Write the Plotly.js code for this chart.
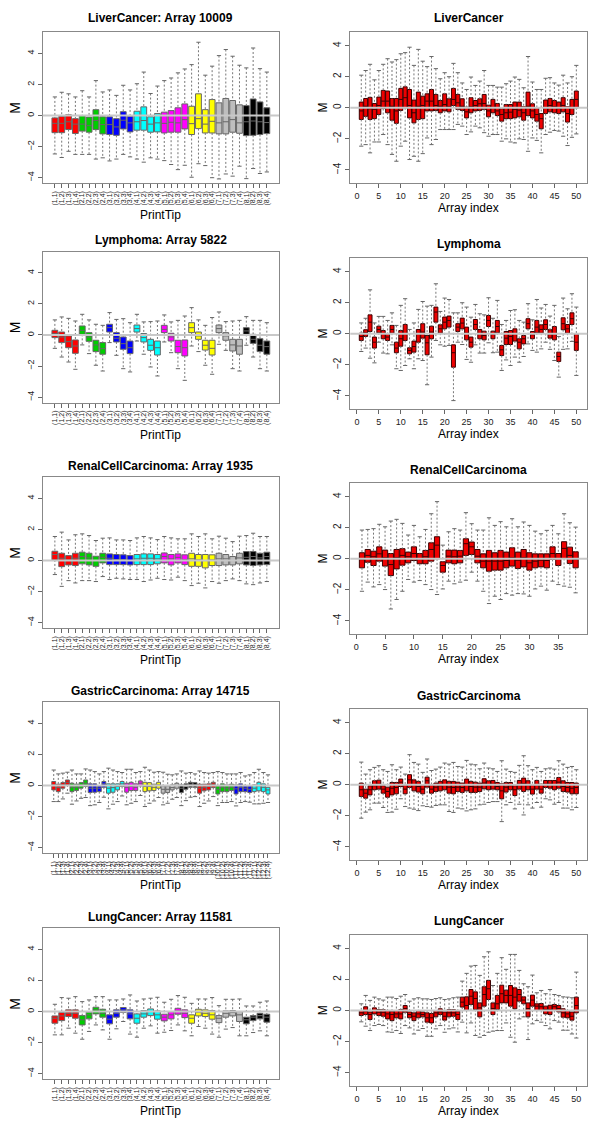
<!DOCTYPE html>
<html>
<head>
<meta charset="utf-8">
<script src="https://cdn.plot.ly/plotly-3.0.1.min.js"></script>
<style>
  html, body { margin: 0; padding: 0; background: #fff; }
  #chart { width: 600px; height: 1128px; }
</style>
</head>
<body>
<div id="chart"></div>
<script>
'use strict';

// print-tip colours (R default palette order) and labels
var tipColors = ['#FF0000', '#00CD00', '#0000FF', '#00FFFF', '#FF00FF', '#FFFF00', '#BEBEBE', '#000000'];
var tipLabels = ['(1,1)','(1,2)','(1,3)','(1,4)','(2,1)','(2,2)','(2,3)','(2,4)',
  '(3,1)','(3,2)','(3,3)','(3,4)','(4,1)','(4,2)','(4,3)','(4,4)',
  '(5,1)','(5,2)','(5,3)','(5,4)','(6,1)','(6,2)','(6,3)','(6,4)',
  '(7,1)','(7,2)','(7,3)','(7,4)','(8,1)','(8,2)','(8,3)','(8,4)',
  '(9,1)','(9,2)','(9,3)','(9,4)','(10,1)','(10,2)','(10,3)','(10,4)',
  '(11,1)','(11,2)','(11,3)','(11,4)','(12,1)','(12,2)','(12,3)','(12,4)'];
var arrayTicks = [0, 5, 10, 15, 20, 25, 30, 35, 40, 45, 50];

// LiverCancer: Array 10009 (per print-tip)
var liverTipHi = [1.2,1.5,1.4,1.2,1.6,1.2,2.25,1.52,1.65,1.3,1.95,1.65,2.05,2.8,1.42,1.9,2.25,2.42,2.75,3.0,3.28,4.72,2.6,3.18,3.86,4.25,3.82,3.24,3.07,4.35,3.02,2.8];
var liverTipQ3 = [-0.15,-0.05,0.05,-0.2,0.0,-0.1,0.38,-0.08,-0.08,-0.2,0.25,-0.04,0.28,0.56,-0.08,0.13,0.22,0.32,0.5,0.75,0.6,1.4,0.38,1.03,0.82,1.1,0.97,0.69,0.64,1.07,0.88,0.5];
var liverTipMed = [-0.5,-0.5,-0.4,-0.55,-0.55,-0.65,-0.32,-0.58,-0.58,-0.73,-0.3,-0.47,-0.4,-0.32,-0.55,-0.47,-0.5,-0.43,-0.47,-0.26,-0.52,-0.2,-0.55,-0.37,-0.47,-0.4,-0.26,-0.47,-0.4,-0.35,-0.4,-0.45];
var liverTipQ1 = [-1.1,-1.1,-0.9,-1.15,-1.0,-1.07,-0.9,-1.18,-1.22,-1.27,-0.86,-1.05,-0.94,-0.94,-1.07,-1.05,-1.12,-1.07,-1.07,-0.86,-1.22,-0.84,-1.12,-1.12,-1.18,-1.18,-1.07,-1.14,-1.29,-1.27,-1.22,-1.16];
var liverTipLo = [-2.47,-2.7,-2.3,-2.5,-2.5,-2.5,-2.8,-2.72,-2.92,-2.8,-2.5,-2.66,-2.8,-3.0,-2.72,-2.8,-2.9,-3.15,-3.48,-3.2,-3.97,-3.1,-3.22,-4.0,-4.08,-3.76,-3.9,-3.26,-4.06,-3.41,-3.73,-3.63];

// LiverCancer (per array)
var liverArrHi = [2.1,2.4,2.8,1.8,2.4,2.8,3.16,2.95,3.1,3.48,3.55,3.9,2.73,3.76,3.0,2.65,3.3,2.52,1.87,2.26,2.0,2.86,2.26,1.6,1.18,1.98,1.44,1.72,2.4,1.44,1.44,1.33,1.33,1.55,1.72,1.98,1.83,1.29,3.3,1.66,1.18,1.18,1.9,1.94,1.6,1.46,2.1,1.6,2.0,2.73];
var liverArrQ3 = [0.37,0.6,0.67,0.28,0.69,1.12,1.08,0.6,0.6,1.25,1.35,1.18,0.5,1.01,0.75,0.9,1.18,0.86,0.47,0.9,0.58,1.25,0.86,0.58,0.04,0.65,0.47,0.58,0.86,0.17,0.54,0.28,-0.06,0.21,0.21,0.37,0.37,0.06,1.01,0.26,0.0,-0.37,0.5,0.6,0.47,0.37,0.65,0.06,0.54,1.08];
var liverArrMed = [-0.2,0.1,-0.06,-0.1,0.15,0.43,0.43,0.1,-0.2,0.54,0.65,0.15,-0.32,0.1,0.15,0.43,0.43,0.15,0.1,0.21,0.06,0.54,0.32,0.1,-0.26,0.06,0.15,0.26,0.28,-0.2,0.0,-0.2,-0.43,-0.32,-0.28,-0.1,-0.15,-0.32,0.1,-0.2,-0.43,-0.7,0.0,0.15,0.06,-0.04,0.15,-0.37,0.0,0.54];
var liverArrQ1 = [-0.75,-0.55,-0.75,-0.7,-0.43,-0.05,-0.32,-0.8,-1.0,-0.17,0.0,-0.65,-0.97,-0.75,-0.7,-0.2,-0.2,-0.17,-0.32,-0.2,-0.26,0.15,-0.1,-0.17,-0.65,-0.32,-0.2,-0.17,-0.1,-0.58,-0.32,-0.5,-0.86,-0.7,-0.7,-0.65,-0.58,-0.8,-0.5,-0.65,-0.86,-1.35,-0.37,-0.26,-0.32,-0.37,-0.26,-0.92,-0.43,0.0];
var liverArrLo = [-2.47,-2.37,-2.9,-2.2,-2.2,-1.72,-2.37,-3.0,-3.44,-2.47,-2.15,-3.33,-3.12,-3.44,-2.95,-1.94,-2.37,-2.04,-1.4,-1.4,-1.4,-1.4,-1.07,-1.18,-1.72,-1.55,-1.18,-1.29,-1.6,-1.83,-1.72,-1.72,-2.15,-2.0,-2.2,-2.26,-2.0,-2.04,-2.8,-1.94,-2.1,-2.9,-1.72,-1.57,-1.46,-1.5,-1.83,-2.43,-1.9,-1.68];

// Lymphoma: Array 5822
var lymphTipHi = [0.97,1.16,1.07,0.9,1.33,0.97,0.69,0.62,1.44,1.0,1.05,0.79,1.33,0.84,0.86,0.9,1.29,0.84,0.94,1.22,1.76,0.97,0.62,1.12,1.48,0.86,0.9,0.94,1.18,0.94,0.94,0.79];
var lymphTipQ3 = [0.3,0.19,-0.06,-0.32,0.58,0.15,-0.34,-0.49,0.69,0.15,-0.13,-0.39,0.64,0.09,-0.28,-0.39,0.62,0.11,-0.34,-0.32,0.79,0.19,-0.34,-0.34,0.64,0.15,-0.28,-0.28,0.47,0.04,-0.24,-0.39];
var lymphTipMed = [0.1,-0.13,-0.43,-0.71,0.3,-0.13,-0.64,-0.88,0.47,-0.21,-0.56,-0.82,0.41,-0.17,-0.66,-0.82,0.36,-0.13,-0.75,-0.82,0.47,-0.06,-0.66,-0.86,0.41,-0.06,-0.64,-0.71,0.26,-0.28,-0.66,-0.75];
var lymphTipQ1 = [-0.17,-0.49,-0.82,-1.18,0.04,-0.41,-1.07,-1.24,0.19,-0.45,-0.92,-1.2,0.19,-0.45,-0.99,-1.29,0.15,-0.39,-1.14,-1.35,0.15,-0.28,-0.97,-1.29,0.15,-0.34,-1.03,-1.24,0.04,-0.54,-1.07,-1.24];
var lymphTipLo = [-0.86,-1.42,-1.74,-2.21,-0.64,-1.2,-1.95,-2.32,-0.49,-1.31,-2.17,-2.38,-0.39,-1.24,-2.06,-2.64,-0.45,-1.14,-2.17,-2.92,-0.71,-1.07,-1.95,-2.53,-0.6,-0.99,-2.17,-2.32,-0.66,-1.42,-2.17,-2.32];

// Lymphoma (per array)
var lymphArrHi = [0.7,1.0,2.83,0.7,1.12,1.12,0.86,1.35,0.54,1.83,2.26,0.28,0.7,1.57,2.08,1.78,1.83,3.22,1.44,2.3,2.21,1.35,1.35,2.0,1.72,1.07,1.89,1.29,1.22,2.32,1.0,2.15,0.6,0.86,1.5,1.55,0.86,0.75,1.94,0.9,2.21,1.66,1.89,1.14,1.83,-0.17,2.3,1.61,2.58,1.72];
var lymphArrQ3 = [0.04,0.26,1.22,-0.21,0.49,0.21,0.0,0.54,-0.54,0.21,0.6,-0.9,-0.47,0.28,0.65,-0.11,0.49,1.72,0.58,1.08,1.14,-0.71,0.65,1.01,0.43,-0.21,0.92,0.28,0.17,1.18,0.17,0.86,-0.75,0.15,0.21,0.32,-0.32,-0.11,0.97,0.15,0.86,0.58,0.9,0.26,0.47,-1.18,1.03,0.6,1.35,0.0];
var lymphArrMed = [-0.17,0.06,0.75,-0.54,0.28,0.0,-0.21,0.28,-0.92,-0.32,0.0,-1.07,-0.82,0.0,0.11,-0.58,0.11,1.4,0.32,0.75,0.86,-1.22,0.43,0.69,0.04,-0.54,0.6,0.0,-0.11,0.86,-0.04,0.47,-1.03,-0.28,-0.17,0.0,-0.54,-0.32,0.65,-0.06,0.43,0.28,0.6,0.0,0.0,-1.46,0.65,0.32,0.97,-0.54];
var lymphArrQ1 = [-0.43,-0.17,0.15,-0.92,0.06,-0.32,-0.43,0.04,-1.22,-0.8,-0.43,-1.29,-1.18,-0.54,-0.28,-1.35,-0.32,0.75,0.04,0.32,0.43,-2.15,0.15,0.32,-0.39,-0.86,0.28,-0.32,-0.39,0.47,-0.32,0.06,-1.4,-0.69,-0.69,-0.47,-0.97,-0.65,0.32,-0.32,0.06,0.04,0.28,-0.28,-0.39,-1.78,0.26,0.04,0.6,-1.07];
var lymphArrLo = [-1.14,-0.92,-1.57,-1.87,-0.54,-1.24,-1.29,-0.71,-2.25,-2.36,-2.04,-1.61,-2.25,-1.61,-1.72,-3.28,-1.5,-0.43,-0.71,-0.8,-0.75,-4.3,-0.54,-0.69,-1.65,-1.83,-0.71,-1.24,-1.24,-0.58,-1.22,-1.18,-2.36,-1.68,-2.04,-1.5,-1.83,-1.46,-0.65,-1.07,-1.18,-0.97,-0.54,-1.0,-1.72,-2.79,-1.0,-0.97,-0.49,-2.68];

// RenalCellCarcinoma: Array 1935
var renalTipHi = [1.55,1.83,1.33,1.66,1.72,1.61,1.29,1.44,1.46,1.33,1.33,1.29,1.46,1.55,1.46,1.35,1.55,1.46,1.4,1.4,1.72,1.55,1.72,1.4,1.57,1.44,1.22,1.57,1.61,1.76,1.55,1.55];
var renalTipQ3 = [0.6,0.47,0.32,0.47,0.54,0.47,0.28,0.47,0.43,0.39,0.37,0.32,0.39,0.43,0.43,0.39,0.49,0.39,0.43,0.37,0.47,0.39,0.39,0.37,0.47,0.39,0.26,0.47,0.58,0.58,0.47,0.54];
var renalTipMed = [0.39,0.15,0.04,0.15,0.26,0.17,0.0,0.21,0.15,0.06,0.06,0.0,0.11,0.15,0.15,0.11,0.26,0.11,0.21,0.06,0.11,0.04,0.0,0.04,0.11,0.11,0.0,0.17,0.21,0.26,0.17,0.26];
var renalTipQ1 = [0.04,-0.39,-0.28,-0.32,-0.21,-0.28,-0.37,-0.15,-0.26,-0.26,-0.26,-0.28,-0.26,-0.26,-0.26,-0.21,-0.15,-0.28,-0.15,-0.26,-0.37,-0.37,-0.47,-0.32,-0.32,-0.28,-0.28,-0.21,-0.28,-0.32,-0.28,-0.26];
var renalTipLo = [-0.9,-1.66,-1.29,-1.44,-1.29,-1.29,-1.35,-1.03,-1.22,-1.14,-1.18,-1.22,-1.22,-1.35,-1.25,-1.14,-1.22,-1.25,-1.07,-1.29,-1.61,-1.46,-1.76,-1.35,-1.46,-1.29,-1.18,-1.29,-1.5,-1.55,-1.44,-1.35];

// RenalCellCarcinoma (per array, 38 arrays)
var renalArrHi = [1.85,1.89,1.94,2.22,2.06,2.43,2.54,2.28,1.53,2.15,1.42,1.89,2.9,3.68,0.88,1.74,1.94,1.85,2.97,2.26,1.85,1.85,2.64,2.15,2.39,2.06,2.58,2.06,2.37,2.15,1.78,1.61,1.83,2.15,1.61,2.9,2.32,2.04];
var renalArrQ3 = [0.39,0.6,0.49,0.77,0.56,0.34,0.6,0.65,0.43,0.77,0.34,0.54,1.03,1.42,-0.19,0.56,0.56,0.54,1.29,1.08,0.6,0.32,0.54,0.39,0.54,0.43,0.71,0.43,0.6,0.39,0.32,0.32,0.32,0.77,0.34,1.1,0.75,0.45];
var renalArrMed = [-0.05,0.22,0.13,0.32,0.06,-0.37,0.06,0.22,0.13,0.34,0.0,0.13,0.6,0.88,-0.43,0.17,0.13,0.17,0.97,0.77,0.17,-0.15,-0.15,-0.15,-0.15,-0.11,0.06,-0.09,0.06,-0.26,-0.15,-0.09,-0.11,0.34,0.0,0.67,0.22,-0.04];
var renalArrQ1 = [-0.58,-0.22,-0.43,-0.15,-0.47,-1.08,-0.65,-0.41,-0.26,-0.11,-0.32,-0.32,-0.15,0.0,-0.86,-0.26,-0.32,-0.26,0.22,0.28,-0.26,-0.58,-0.8,-0.73,-0.73,-0.58,-0.47,-0.62,-0.52,-0.73,-0.58,-0.52,-0.58,-0.04,-0.43,0.02,-0.3,-0.58];
var renalArrLo = [-2.09,-1.5,-1.81,-1.66,-1.98,-3.23,-2.62,-2.09,-1.33,-1.5,-1.4,-1.66,-1.98,-2.3,-1.94,-1.44,-1.61,-1.5,-1.38,-0.86,-1.44,-2.09,-2.88,-2.41,-2.62,-2.24,-2.34,-2.24,-2.26,-2.41,-1.94,-1.76,-2.02,-1.44,-1.66,-1.76,-1.83,-2.19];

// GastricCarcinoma: Array 14715 (48 print-tips)
var gastricTipHi = [1.0,0.75,0.8,0.86,1.0,0.75,0.75,1.07,1.0,0.9,0.75,0.9,1.12,1.0,0.9,0.84,1.05,1.05,0.84,0.9,1.18,1.0,0.86,0.9,0.86,0.73,0.69,0.75,0.94,0.8,0.84,0.75,0.94,0.84,0.8,0.84,0.9,0.84,0.75,0.75,0.75,0.84,0.62,0.69,0.84,1.05,0.84,0.69];
var gastricTipQ3 = [0.26,0.09,0.19,0.36,0.15,0.09,0.19,0.36,0.11,0.11,-0.02,0.26,0.11,0.11,0.11,0.26,0.15,0.21,0.11,0.3,0.21,0.19,0.09,0.21,-0.02,-0.02,0.04,0.15,0.04,0.11,0.21,0.19,0.09,0.09,0.11,0.21,-0.02,0.11,0.04,0.09,0.04,0.11,-0.02,-0.02,0.04,0.21,0.11,-0.11];
var gastricTipMed = [0.04,-0.13,0.04,0.21,-0.11,-0.11,0.04,0.15,-0.17,-0.17,-0.17,0.11,-0.17,-0.13,-0.06,0.11,-0.11,-0.06,-0.11,0.15,-0.06,-0.06,-0.11,0.04,-0.24,-0.24,-0.13,0.0,-0.17,-0.06,0.09,0.04,-0.17,-0.13,-0.06,0.09,-0.24,-0.11,-0.17,-0.11,-0.21,-0.11,-0.17,-0.24,-0.17,-0.02,-0.11,-0.28];
var gastricTipQ1 = [-0.28,-0.39,-0.17,0.04,-0.39,-0.32,-0.17,-0.06,-0.45,-0.43,-0.39,-0.11,-0.49,-0.43,-0.28,-0.06,-0.43,-0.32,-0.32,-0.02,-0.39,-0.34,-0.32,-0.17,-0.49,-0.45,-0.28,-0.17,-0.45,-0.24,-0.11,-0.11,-0.49,-0.34,-0.28,-0.13,-0.54,-0.39,-0.39,-0.32,-0.54,-0.39,-0.39,-0.45,-0.39,-0.34,-0.39,-0.54];
var gastricTipLo = [-1.03,-1.03,-0.86,-0.49,-1.2,-0.99,-0.82,-0.77,-1.29,-1.24,-1.09,-0.75,-1.5,-1.2,-1.03,-0.67,-1.24,-1.14,-1.03,-0.64,-1.35,-1.14,-0.99,-0.77,-1.24,-1.14,-0.88,-0.77,-1.29,-0.97,-0.75,-0.71,-1.35,-1.14,-0.99,-0.71,-1.29,-1.09,-1.09,-1.03,-1.31,-1.09,-1.03,-1.07,-1.18,-1.18,-1.14,-1.09];

// GastricCarcinoma (per array)
var gastricArrHi = [1.46,0.69,0.97,1.12,1.23,0.97,0.86,1.29,0.97,1.14,0.69,1.94,1.44,1.33,0.8,1.66,0.92,1.01,1.14,1.4,1.33,1.44,1.18,1.14,1.57,1.33,1.29,1.03,1.4,1.08,1.03,0.86,1.55,1.01,0.86,0.8,1.25,1.87,1.23,0.97,1.12,0.86,1.03,1.08,1.01,1.55,1.33,1.12,1.18,0.97];
var gastricArrQ3 = [0.11,-0.28,-0.06,0.26,0.3,-0.06,-0.15,0.15,0.15,0.37,0.0,0.65,0.32,0.22,0.0,0.49,0.0,0.11,0.22,0.32,0.22,0.22,0.17,0.11,0.37,0.22,0.17,0.11,0.39,0.26,0.28,0.15,0.06,0.15,0.15,-0.06,0.28,0.43,0.26,0.0,0.28,0.04,0.28,0.28,0.28,0.47,0.26,0.15,0.15,0.11];
var gastricArrMed = [-0.32,-0.54,-0.32,-0.06,0.04,-0.28,-0.43,-0.22,-0.17,0.17,-0.28,0.32,0.0,-0.11,-0.28,0.26,-0.28,-0.15,-0.06,0.0,-0.15,-0.17,-0.15,-0.17,0.0,-0.11,-0.15,-0.15,0.11,-0.04,0.04,-0.11,-0.39,-0.15,-0.06,-0.32,0.04,0.06,0.0,-0.28,0.0,-0.28,0.04,0.04,0.0,0.17,-0.11,-0.17,-0.22,-0.17];
var gastricArrQ1 = [-0.75,-0.86,-0.65,-0.32,-0.28,-0.54,-0.8,-0.65,-0.58,-0.11,-0.58,-0.17,-0.39,-0.47,-0.58,-0.15,-0.54,-0.43,-0.39,-0.32,-0.54,-0.58,-0.43,-0.49,-0.39,-0.49,-0.49,-0.43,-0.26,-0.32,-0.28,-0.32,-0.9,-0.47,-0.32,-0.69,-0.28,-0.43,-0.32,-0.6,-0.28,-0.54,-0.17,-0.22,-0.32,-0.22,-0.43,-0.47,-0.58,-0.58];
var gastricArrLo = [-2.15,-1.76,-1.61,-1.18,-1.18,-1.46,-1.78,-1.76,-1.57,-0.9,-1.4,-1.5,-1.57,-1.66,-1.35,-1.4,-1.44,-1.33,-1.29,-1.29,-1.72,-1.78,-1.5,-1.55,-1.68,-1.61,-1.55,-1.29,-1.25,-1.14,-1.08,-1.08,-2.37,-1.29,-1.14,-1.55,-1.25,-1.94,-1.29,-1.5,-1.14,-1.44,-0.9,-0.97,-1.25,-1.14,-1.5,-1.5,-1.61,-1.46];

// LungCancer: Array 11581
var lungTipHi = [0.47,0.9,0.86,0.96,0.64,0.75,0.96,0.96,0.75,0.75,0.81,1.07,0.68,0.81,0.86,0.92,0.6,0.79,1.03,0.92,0.53,0.81,0.81,0.9,0.38,0.79,0.79,0.81,0.36,0.36,0.6,0.68];
var lungTipQ3 = [-0.28,-0.06,0.11,0.11,-0.26,-0.04,0.28,0.15,-0.21,0.11,0.26,0.11,-0.15,0.06,0.17,0.04,-0.17,0.0,0.21,0.11,-0.21,0.15,0.11,0.06,-0.26,0.04,0.06,0.0,-0.36,-0.26,-0.11,-0.17];
var lungTipMed = [-0.43,-0.28,-0.11,-0.11,-0.53,-0.21,0.11,-0.11,-0.49,-0.11,0.11,-0.15,-0.43,-0.15,0.0,-0.21,-0.36,-0.21,0.04,-0.11,-0.43,-0.04,-0.11,-0.21,-0.43,-0.11,-0.06,-0.21,-0.53,-0.36,-0.26,-0.36];
var lungTipQ1 = [-0.75,-0.58,-0.32,-0.43,-0.86,-0.47,-0.15,-0.36,-0.79,-0.36,-0.06,-0.47,-0.75,-0.36,-0.26,-0.49,-0.6,-0.47,-0.17,-0.39,-0.75,-0.28,-0.32,-0.49,-0.71,-0.36,-0.28,-0.64,-0.79,-0.58,-0.47,-0.68];
var lungTipLo = [-1.5,-1.5,-1.07,-1.39,-1.78,-1.28,-0.86,-1.18,-1.78,-1.11,-0.64,-1.45,-1.65,-1.07,-0.92,-1.39,-1.33,-1.22,-0.86,-1.24,-1.56,-0.96,-1.07,-1.45,-1.65,-1.13,-1.03,-1.56,-1.56,-1.35,-1.24,-1.56];

// LungCancer (per array)
var lungArrHi = [0.43,0.97,0.65,0.86,0.75,0.67,0.86,0.86,0.77,0.92,1.03,0.6,0.75,0.82,0.75,0.75,0.71,0.77,0.82,0.71,0.75,0.82,0.86,1.89,2.39,2.86,2.9,2.26,3.46,3.78,1.61,2.39,3.4,2.65,3.61,3.61,2.58,1.72,1.53,2.28,1.14,1.29,1.08,1.35,1.03,0.97,0.88,0.86,0.82,2.47];
var lungArrQ3 = [0.0,0.24,-0.09,0.17,0.06,0.06,0.0,-0.04,0.0,0.06,0.32,-0.09,-0.15,0.0,-0.09,-0.15,-0.19,0.0,0.11,-0.09,0.06,0.06,-0.04,0.86,0.88,1.35,1.2,0.49,1.53,1.94,0.49,0.97,1.63,1.31,1.61,1.46,1.35,0.88,0.49,0.99,0.43,0.45,0.28,0.34,0.39,0.32,0.11,0.0,-0.09,0.86];
var lungArrMed = [-0.15,-0.04,-0.26,0.0,-0.11,-0.11,-0.22,-0.26,-0.22,-0.22,0.13,-0.26,-0.37,-0.22,-0.26,-0.47,-0.47,-0.15,-0.09,-0.37,-0.15,-0.15,-0.26,0.54,0.32,0.92,0.77,0.17,1.03,1.4,0.13,0.43,1.08,0.97,0.97,0.86,1.03,0.67,0.13,0.67,0.28,0.24,0.06,0.06,0.24,0.13,-0.15,-0.22,-0.37,0.32];
var lungArrQ1 = [-0.32,-0.26,-0.58,-0.22,-0.32,-0.37,-0.54,-0.65,-0.47,-0.54,-0.11,-0.47,-0.65,-0.47,-0.41,-0.75,-0.8,-0.41,-0.26,-0.62,-0.41,-0.37,-0.58,0.22,0.0,0.39,0.06,-0.41,0.28,0.71,-0.26,0.06,0.49,0.49,0.28,0.11,0.6,0.43,-0.41,0.28,0.0,0.0,-0.22,-0.26,0.0,-0.09,-0.43,-0.47,-0.62,-0.15];
var lungArrLo = [-0.73,-1.01,-1.29,-0.97,-0.9,-0.97,-1.38,-1.4,-1.29,-1.48,-0.97,-1.12,-1.51,-1.27,-1.16,-1.66,-1.66,-1.18,-0.97,-1.4,-1.18,-1.12,-1.38,-0.75,-1.44,-0.8,-1.61,-1.72,-1.61,-1.4,-1.33,-1.29,-1.29,-0.8,-1.72,-2.04,-0.54,-0.41,-1.87,-0.86,-0.65,-0.75,-0.97,-1.18,-0.65,-0.75,-1.27,-1.27,-1.51,-1.77];

var W = 600, H = 1128;
var FONT = 'Liberation Sans, Arial, Helvetica, sans-serif';
var PLOT_H = 151;

//panneaux : position en pixels de la zone de tracé et du titre
var panels = [
  {title: 'LiverCancer: Array 10009', tip: true, s: [liverTipLo, liverTipQ1, liverTipMed, liverTipQ3, liverTipHi], left: true, top: 32.3, titleY: 18.3},
  {title: 'LiverCancer', tip: false, s: [liverArrLo, liverArrQ1, liverArrMed, liverArrQ3, liverArrHi], left: false, top: 32.3, titleY: 18.3},
  {title: 'Lymphoma: Array 5822', tip: true, s: [lymphTipLo, lymphTipQ1, lymphTipMed, lymphTipQ3, lymphTipHi], left: true, top: 251.7, titleY: 240},
  {title: 'Lymphoma', tip: false, s: [lymphArrLo, lymphArrQ1, lymphArrMed, lymphArrQ3, lymphArrHi], left: false, top: 258.3, titleY: 244},
  {title: 'RenalCellCarcinoma: Array 1935', tip: true, s: [renalTipLo, renalTipQ1, renalTipMed, renalTipQ3, renalTipHi], left: true, top: 477.3, titleY: 465.7},
  {title: 'RenalCellCarcinoma', tip: false, s: [renalArrLo, renalArrQ1, renalArrMed, renalArrQ3, renalArrHi], left: false, top: 483.3, titleY: 470},
  {title: 'GastricCarcinoma: Array 14715', tip: true, s: [gastricTipLo, gastricTipQ1, gastricTipMed, gastricTipQ3, gastricTipHi], left: true, top: 702.3, titleY: 690.7},
  {title: 'GastricCarcinoma', tip: false, s: [gastricArrLo, gastricArrQ1, gastricArrMed, gastricArrQ3, gastricArrHi], left: false, top: 709.3, titleY: 695.7},
  {title: 'LungCancer: Array 11581', tip: true, s: [lungTipLo, lungTipQ1, lungTipMed, lungTipQ3, lungTipHi], left: true, top: 928.3, titleY: 916.7},
  {title: 'LungCancer', tip: false, s: [lungArrLo, lungArrQ1, lungArrMed, lungArrQ3, lungArrHi], left: false, top: 935, titleY: 920.7}
];

var traces = [];
var layout = {
  width: W, height: H,
  margin: {l: 0, r: 0, t: 0, b: 0},
  paper_bgcolor: '#fff', plot_bgcolor: '#fff',
  showlegend: false,
  boxmode: 'overlay',
  font: {family: FONT, color: '#000'},
  annotations: [],
  shapes: []
};

function px(x) { return x / W; }
function py(y) { return 1 - y / H; }

panels.forEach(function(p, k) {
  var n = k + 1;
  var xa = 'x' + (n === 1 ? '' : n), ya = 'y' + (n === 1 ? '' : n);
  var lo = p.s[0], q1 = p.s[1], med = p.s[2], q3 = p.s[3], hi = p.s[4];
  var m = lo.length;
  var xs = lo.map(function(v, i) { return i + 1; });
  var x0 = p.left ? 42.7 : 350.3, x1 = p.left ? 279 : 587.3;
  var yr = p.tip ? [-4.36, 5.36] : [-4.86, 4.86];
  var pad = 0.04 * m;

  //moustaches en pointillés
  var wx = [], wy = [];
  xs.forEach(function(x, i) {
    wx.push(x, x, null, x, x, null);
    wy.push(hi[i], q3[i], null, q1[i], lo[i], null);
  });
  traces.push({
    type: 'scatter', mode: 'lines', xaxis: xa, yaxis: ya,
    x: wx, y: wy, hoverinfo: 'skip',
    line: {color: '#777', width: 1, dash: '2px,2px'}
  });
  traces.push({
    type: 'scatter', mode: 'markers', xaxis: xa, yaxis: ya,
    x: xs.concat(xs), y: hi.concat(lo), hoverinfo: 'skip',
    marker: {symbol: 'line-ew', size: 3, color: '#666', line: {color: '#666', width: 1}}
  });

  //boîtes : une trace par couleur de print-tip
  var groups = {};
  xs.forEach(function(x, i) {
    var c = p.tip ? tipColors[Math.floor(i / 4) % tipColors.length] : '#EE0000';
    if (!groups[c]) groups[c] = [];
    groups[c].push(i);
  });
  Object.keys(groups).forEach(function(c) {
    var idx = groups[c];
    var pick = function(a) { return idx.map(function(i) { return a[i]; }); };
    traces.push({
      type: 'box', xaxis: xa, yaxis: ya,
      x: pick(xs), q1: pick(q1), median: pick(med), q3: pick(q3),
      lowerfence: pick(q1), upperfence: pick(q3),
      width: p.tip ? 0.85 : 0.9, whiskerwidth: 0, boxpoints: false,
      fillcolor: c, hoverinfo: 'skip',
      line: {color: p.tip ? '#666' : '#3a0000', width: 1}
    });
  });

  var axX = {
    domain: [px(x0), px(x1)], anchor: ya,
    range: [0.5 - pad, m + 0.5 + pad],
    showline: true, mirror: true, linecolor: '#888', linewidth: 1,
    showgrid: false, zeroline: false,
    ticks: 'outside', ticklen: 4, tickcolor: '#666', tickwidth: 1
  };
  if (p.tip) {
    axX.tickmode = 'array';
    axX.tickvals = xs;
    axX.ticktext = tipLabels.slice(0, m);
    axX.tickangle = -90;
    axX.tickfont = {size: 7, color: '#222'};
  } else {
    axX.tickmode = 'array';
    axX.tickvals = arrayTicks.filter(function(t) { return t <= m; });
    axX.ticktext = axX.tickvals.map(String);
    axX.tickfont = {size: 9, color: '#222'};
  }
  var axY = {
    domain: [py(p.top + PLOT_H), py(p.top)], anchor: xa,
    range: yr,
    showline: true, mirror: true, linecolor: '#888', linewidth: 1,
    showgrid: false, zeroline: false,
    ticks: 'outside', ticklen: 4, tickcolor: '#666', tickwidth: 1,
    tickmode: 'array', tickvals: [-4, -2, 0, 2, 4],
    tickangle: -90, tickfont: {size: p.tip ? 9 : 10, color: '#222'}
  };
  layout['xaxis' + (n === 1 ? '' : n)] = axX;
  layout['yaxis' + (n === 1 ? '' : n)] = axY;

  //ligne horizontale à M = 0
  layout.shapes.push({
    type: 'line', xref: xa + ' domain', yref: ya,
    x0: 0, x1: 1, y0: 0, y1: 0, layer: 'above',
    line: {color: '#c8c8c8', width: 2}
  });

  //titres
  layout.annotations.push({
    text: '<b>' + p.title + '</b>', xref: 'paper', yref: 'paper',
    x: px((x0 + x1) / 2), y: py(p.titleY), xanchor: 'center', yanchor: 'middle',
    showarrow: false, font: {size: 12, color: '#000'}
  });
  layout.annotations.push({
    text: p.tip ? 'PrintTip' : 'Array index', xref: 'paper', yref: 'paper',
    x: px((x0 + x1) / 2), y: py(p.top + PLOT_H + (p.tip ? 32 : 24.5)),
    xanchor: 'center', yanchor: 'middle',
    showarrow: false, font: {size: 12, color: '#000'}
  });
  layout.annotations.push({
    text: 'M', xref: 'paper', yref: 'paper', textangle: -90,
    x: px(p.left ? 15 : 322.7), y: py(p.top + PLOT_H / 2),
    xanchor: 'center', yanchor: 'middle',
    showarrow: false, font: {size: p.tip ? 14 : 12, color: '#000'}
  });
});

Plotly.newPlot('chart', traces, layout, {staticPlot: true, displayModeBar: false});
</script>
</body>
</html>
